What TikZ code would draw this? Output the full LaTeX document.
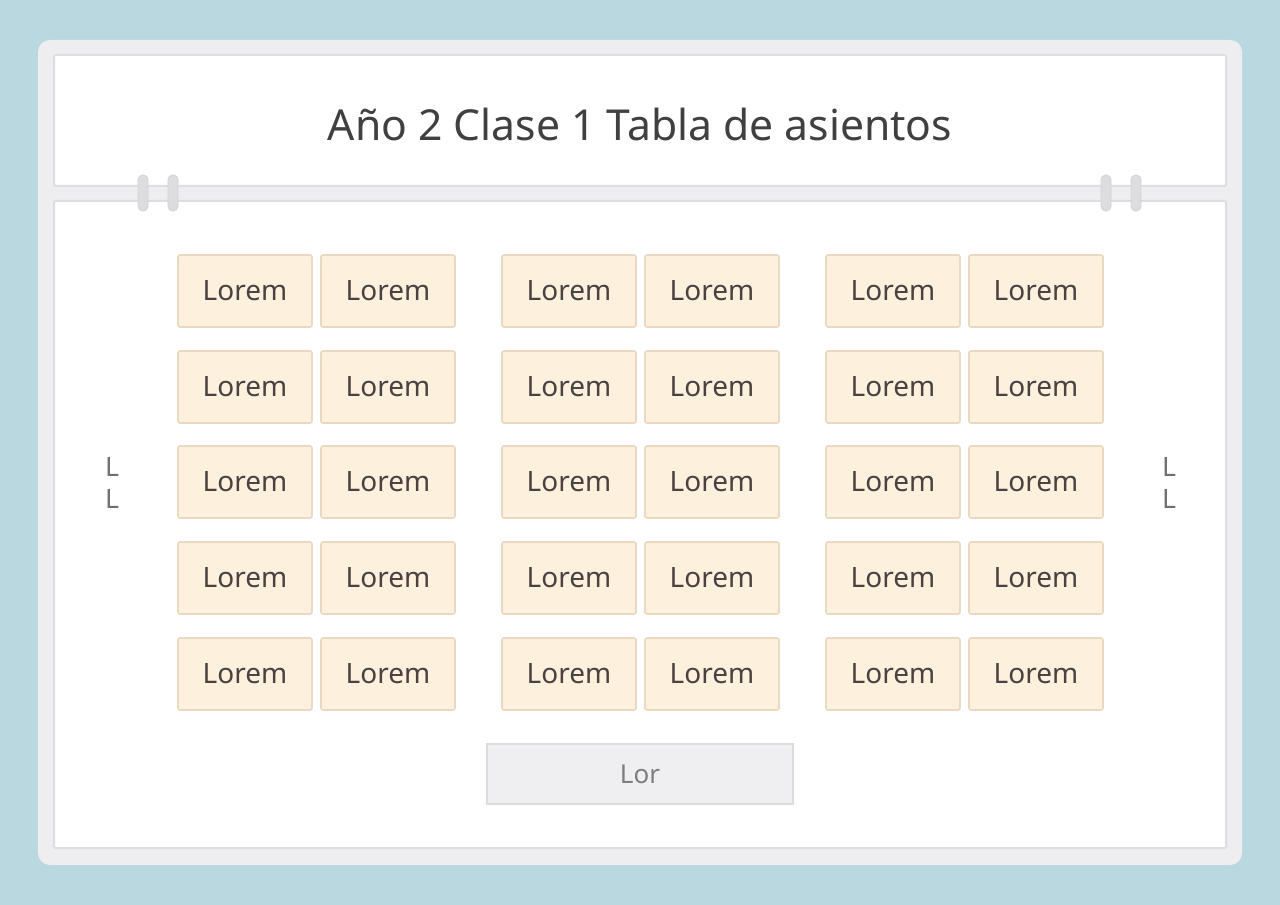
\documentclass[tikz,border=0pt]{standalone}
\usepackage{fontspec}
\setmainfont{Noto Sans}
\definecolor{bgblue}{HTML}{BAD8E0}
\definecolor{frame}{HTML}{EEEDEF}
\definecolor{panelline}{HTML}{DEDDDF}
\definecolor{seatfill}{HTML}{FDF0DC}
\definecolor{seatline}{HTML}{E9D9C0}
\definecolor{seattext}{HTML}{4A4242}
\definecolor{titletext}{HTML}{404040}
\definecolor{btnfill}{HTML}{EFEEF0}
\definecolor{btnline}{HTML}{DCDBDD}
\definecolor{btntext}{HTML}{7E7E7E}
\definecolor{ring}{HTML}{DDDCDE}
\definecolor{ringline}{HTML}{D2D1D3}
\definecolor{mark}{HTML}{707070}
\tikzset{
  seat/.style={draw=seatline, fill=seatfill, line width=1.2pt, rounded corners=1.5pt,
    minimum width=100.5pt, minimum height=54pt, inner sep=0pt,
    text=seattext, font=\fontsize{21}{25}\selectfont},
  panel/.style={fill=white, draw=panelline, line width=1.5pt, rounded corners=1pt},
  ringshape/.style={fill=ring, draw=ringline, line width=0.6pt, rounded corners=3.5pt},
  btn/.style={draw=btnline, fill=btnfill, line width=1.2pt, minimum width=229.5pt,
    minimum height=45pt, inner sep=0pt, text=btntext, font=\fontsize{19.5}{23}\selectfont},
  sidemark/.style={text=mark, font=\fontsize{20}{22}\selectfont, inner sep=0pt}
}
\begin{document}
\begin{tikzpicture}[x=0.75pt, y=-0.75pt]
\useasboundingbox (0,0) rectangle (1280,905);
\fill[bgblue] (0,0) rectangle (1280,905);
% outer frame
\fill[frame, rounded corners=9pt] (38,40) rectangle (1242,865);
% panels
\draw[panel] (54,55) rectangle (1226,186);
\draw[panel] (54,201) rectangle (1226,848);
% title
\node[text=titletext, font=\fontsize{32}{38}\selectfont] (title) at (640,125) {Año 2 Clase 1 Tabla de asientos};
% rings
\foreach \rx/\rn in {143/r1,173/r2,1106/r3,1136/r4}{
  \draw[ringshape] (\rx-5,175) rectangle (\rx+5,211);
}
% seats
\foreach \cx [count=\c] in {245,388,569,712,893,1036}{
  \foreach \cy [count=\r] in {291,387,482,578,674}{
    \node[seat] (s-\r-\c) at (\cx,\cy) {Lorem};
  }
}
% button
\node[btn] (btn) at (640,774) {Lor};
% side marks
\node[sidemark] (ml1) at (112,467) {L};
\node[sidemark] (ml2) at (112,499) {L};
\node[sidemark] (mr1) at (1169,467) {L};
\node[sidemark] (mr2) at (1169,499) {L};
\end{tikzpicture}
\end{document}
